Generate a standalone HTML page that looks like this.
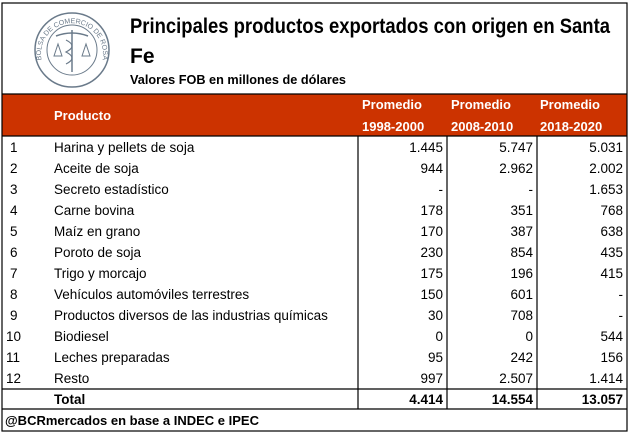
<!DOCTYPE html>
<html><head><meta charset="utf-8"><style>
html,body{margin:0;padding:0;background:#fff;}
svg{display:block;}
text{font-family:"Liberation Sans",sans-serif;}
</style></head><body>
<svg width="630" height="433" viewBox="0 0 630 433">
<defs><path id="arc" d="M42 62 A31 31 0 1 1 102 62"/></defs>
<rect x="0" y="0" width="630" height="433" fill="#fff"/>
<!-- logo -->
<g stroke="#6a7a8a" fill="none">
<circle cx="72" cy="50" r="37" stroke-width="1.5"/>
<circle cx="72" cy="50" r="25" stroke-width="1"/>
<line x1="72" y1="30" x2="72" y2="72" stroke-width="1.5"/>
<path d="M56 36 Q72 30 88 36" stroke-width="1.5"/>
<path d="M54 56 L58 44 L62 56 Z M82 56 L86 44 L90 56 Z" stroke-width="1"/>
<path d="M66 40 Q78 46 66 52 Q78 58 66 64" stroke-width="1.2"/>
</g>
<text font-size="7" fill="#6a7a8a"><textPath href="#arc" startOffset="2">BOLSA DE COMERCIO DE ROSARIO</textPath></text>
<!-- title -->
<text x="130" y="33" font-size="21" font-weight="bold" fill="#000" textLength="480" lengthAdjust="spacingAndGlyphs">Principales productos exportados con origen en Santa</text>
<text x="130" y="63" font-size="21" font-weight="bold" fill="#000">Fe</text>
<text x="130" y="84" font-size="13" font-weight="bold" fill="#000" textLength="216" lengthAdjust="spacingAndGlyphs">Valores FOB en millones de dólares</text>
<!-- header band -->
<rect x="2" y="94" width="625" height="42" fill="#CC3300"/>
<g fill="#fff" font-size="13" font-weight="bold">
<text x="54" y="120">Producto</text>
<text x="362" y="109">Promedio</text><text x="362" y="131">1998-2000</text>
<text x="451" y="109">Promedio</text><text x="451" y="131">2008-2010</text>
<text x="540" y="109">Promedio</text><text x="540" y="131">2018-2020</text>
</g>
<!-- rows -->
<g font-size="13.5" fill="#000">
<text x="10" y="152">1</text><text x="54" y="152">Harina y pellets de soja</text>
<text x="10" y="173">2</text><text x="54" y="173">Aceite de soja</text>
<text x="10" y="194">3</text><text x="54" y="194">Secreto estadístico</text>
<text x="10" y="215">4</text><text x="54" y="215">Carne bovina</text>
<text x="10" y="236">5</text><text x="54" y="236">Maíz en grano</text>
<text x="10" y="257">6</text><text x="54" y="257">Poroto de soja</text>
<text x="10" y="278">7</text><text x="54" y="278">Trigo y morcajo</text>
<text x="10" y="299">8</text><text x="54" y="299">Vehículos automóviles terrestres</text>
<text x="10" y="320">9</text><text x="54" y="320">Productos diversos de las industrias químicas</text>
<text x="6" y="341">10</text><text x="54" y="341">Biodiesel</text>
<text x="6" y="362">11</text><text x="54" y="362">Leches preparadas</text>
<text x="6" y="383">12</text><text x="54" y="383">Resto</text>
</g>
<g font-size="13.5" fill="#000" text-anchor="end">
<text x="443" y="152">1.445</text><text x="533" y="152">5.747</text><text x="623" y="152">5.031</text>
<text x="443" y="173">944</text><text x="533" y="173">2.962</text><text x="623" y="173">2.002</text>
<text x="443" y="194">-</text><text x="533" y="194">-</text><text x="623" y="194">1.653</text>
<text x="443" y="215">178</text><text x="533" y="215">351</text><text x="623" y="215">768</text>
<text x="443" y="236">170</text><text x="533" y="236">387</text><text x="623" y="236">638</text>
<text x="443" y="257">230</text><text x="533" y="257">854</text><text x="623" y="257">435</text>
<text x="443" y="278">175</text><text x="533" y="278">196</text><text x="623" y="278">415</text>
<text x="443" y="299">150</text><text x="533" y="299">601</text><text x="623" y="299">-</text>
<text x="443" y="320">30</text><text x="533" y="320">708</text><text x="623" y="320">-</text>
<text x="443" y="341">0</text><text x="533" y="341">0</text><text x="623" y="341">544</text>
<text x="443" y="362">95</text><text x="533" y="362">242</text><text x="623" y="362">156</text>
<text x="443" y="383">997</text><text x="533" y="383">2.507</text><text x="623" y="383">1.414</text>
</g>
<g font-size="13.5" font-weight="bold" fill="#000">
<text x="54" y="404">Total</text>
<text x="443" y="404" text-anchor="end">4.414</text>
<text x="533" y="404" text-anchor="end">14.554</text>
<text x="623" y="404" text-anchor="end">13.057</text>
<text x="5" y="425" font-size="13">@BCRmercados en base a INDEC e IPEC</text>
</g>
<!-- lines -->
<g stroke="#000" stroke-width="1.2" fill="none">
<rect x="2" y="3" width="625" height="428"/>
<line x1="2" y1="94" x2="627" y2="94"/>
<line x1="2" y1="136" x2="627" y2="136"/>
<line x1="2" y1="389" x2="627" y2="389"/>
<line x1="2" y1="409" x2="627" y2="409"/>
<line x1="358" y1="136" x2="358" y2="409"/>
<line x1="447" y1="136" x2="447" y2="409"/>
<line x1="537" y1="136" x2="537" y2="409"/>
</g>
</svg>
</body></html>
